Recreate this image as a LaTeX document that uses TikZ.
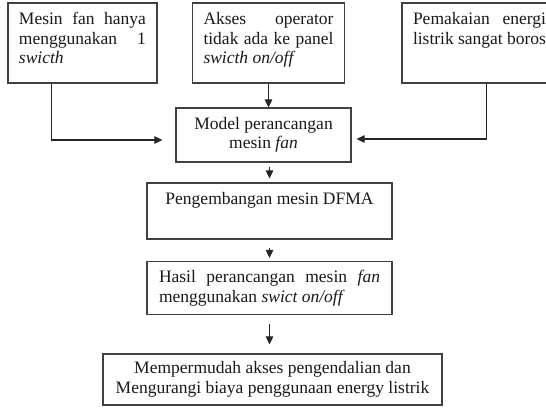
\documentclass[tikz,border=0pt]{standalone}
\usepackage{fontspec}
\setmainfont{Liberation Serif}
\usetikzlibrary{arrows.meta}
\usetikzlibrary{calc}
\hyphenpenalty=10000

\tikzset{
  box/.style={draw=black!75, line width=1.2pt, inner sep=0pt, text=black!90, font=\fontsize{17.5}{19.5}\selectfont},
  flow/.style={draw=black!85, line width=1.1pt, -{Triangle[length=8pt,width=7.5pt]}}
}

\begin{document}
\begin{tikzpicture}[x=1pt,y=1pt,yscale=-1,xscale=1]
\useasboundingbox (0,0) rectangle (546,408);

%Top boxes
\node[box, minimum width=149pt, minimum height=80pt] (mesin) at (82.5,43) {\parbox[c][64pt][t]{127pt}{\strut Mesin fan hanya menggunakan 1 \textit{swicth}}};
\node[box, minimum width=152pt, minimum height=80pt] (akses) at (268.5,43) {\parbox[c][64pt][t]{130pt}{\strut Akses operator tidak ada ke panel \textit{swicth on/off}}};
\node[box, minimum width=155pt, minimum height=80pt] (energi) at (479.5,43) {\parbox[c][64pt][t]{133pt}{\strut Pemakaian energi listrik sangat boros}};

%Flow boxes
\node[box, minimum width=175pt, minimum height=54pt, align=center] (model) at (263.5,135) {Model perancangan\\mesin \textit{fan}};
\node[box, minimum width=245pt, minimum height=56pt, align=center] (dfma) at (269.5,211) {Pengembangan mesin DFMA\\\strut};
\node[box, minimum width=245pt, minimum height=53pt, text width=221pt, align=justify] (hasil) at (269.5,288) {Hasil perancangan mesin \textit{fan} menggunakan \textit{swict on/off}};
\node[box, minimum width=339pt, minimum height=51pt, align=center] (akhir) at (272.5,379.5) {Mempermudah akses pengendalian dan\\Mengurangi biaya penggunaan energy listrik};

%Connectors
\draw[flow] ($(mesin.south west)+(44,0)$) |- ($(model.west)+(-13,5)$);
\draw[flow] (akses.south) -- (akses.south |- model.north);
\draw[flow] ($(energi.south west)+(85,0)$) |- ($(model.east)+(5,4)$);
\draw[flow, shorten <=4pt, shorten >=4pt] (dfma.north |- model.south) -- (dfma.north);
\draw[flow, shorten <=8pt, shorten >=3pt] (dfma.south) -- (hasil.north);
\draw[flow, shorten <=9pt, shorten >=9pt] (hasil.south) -- (hasil.south |- akhir.north);

\end{tikzpicture}
\end{document}
